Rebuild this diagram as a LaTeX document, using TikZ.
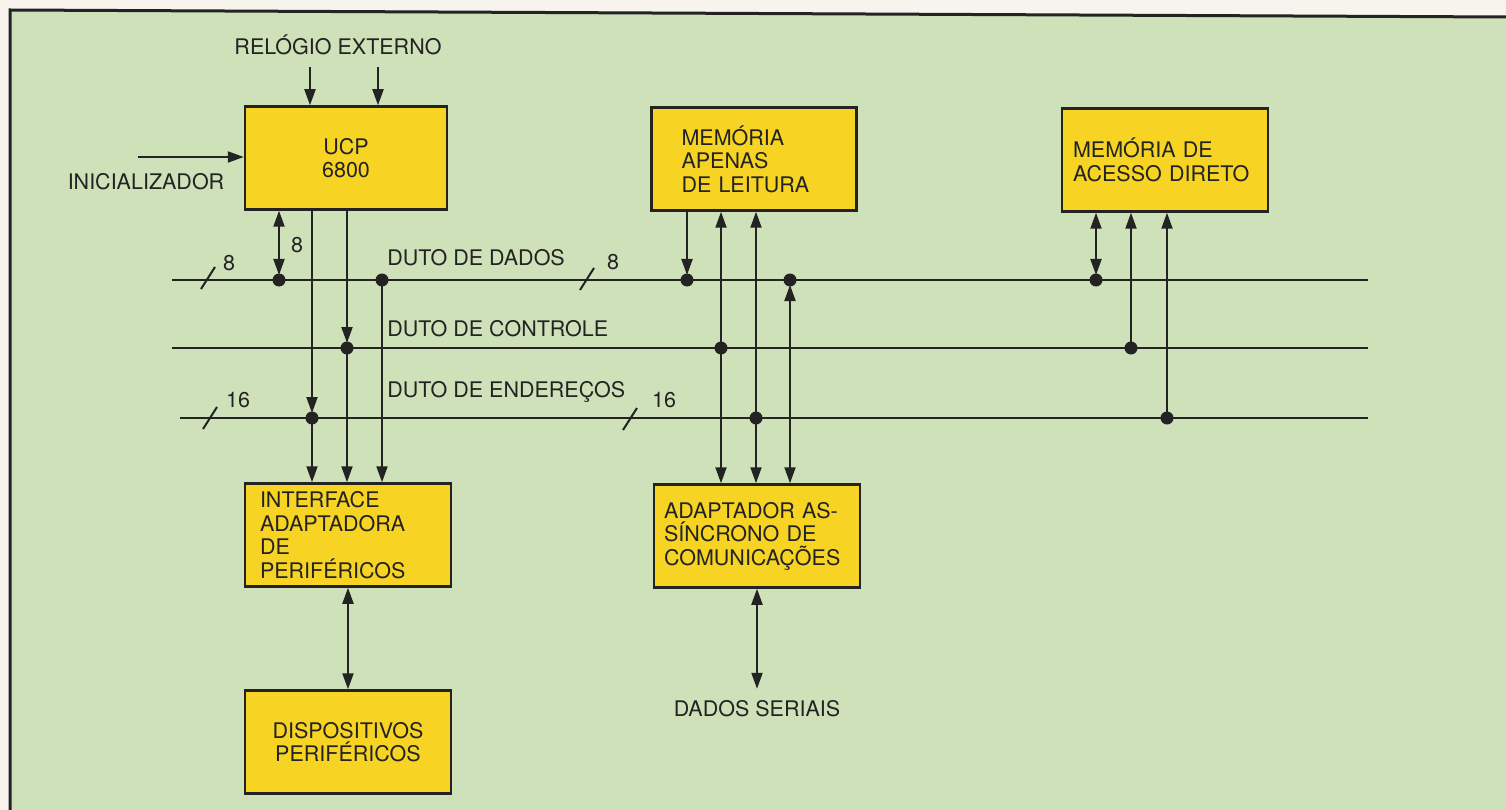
\documentclass[tikz,border=0pt]{standalone}
\usepackage{fontspec}
\setmainfont{TeX Gyre Heros}
\usetikzlibrary{arrows.meta}
\definecolor{paper}{RGB}{246,244,236}
\definecolor{bggreen}{RGB}{206,225,185}
\definecolor{boxyellow}{RGB}{247,212,36}
\definecolor{ink}{RGB}{35,35,35}
\begin{document}
\begin{tikzpicture}[
        x=1pt, y=-1pt,
        color=ink, line width=2pt,
        font=\fontsize{21.5}{23.5}\selectfont,
        >={Triangle[length=16pt,width=11pt]},
        block/.style={draw, line width=2.5pt, fill=boxyellow, align=left, minimum height=103pt, inner ysep=0pt},
        tap/.style={shorten >=5pt},
        buslabel/.style={anchor=west}
    ]
    \useasboundingbox (0,0) rectangle (1506,810);
    \fill[paper] (0,0) rectangle (1506,810);
    \fill[bggreen] (10,810) -- (10,10) -- (1506,17) -- (1506,810) -- cycle;
    \draw[line width=3pt] (10,810) -- (10,10) -- (1506,17);

    \node[block, text width=172pt, inner xsep=15pt, align=center] (ucp) at (346,158) {UCP\\6800};
    \node[block, text width=145pt, inner xsep=30pt] (rom) at (754,159) {MEMÓRIA\\APENAS\\DE LEITURA};
    \node[block, text width=184pt, inner xsep=11pt] (ram) at (1165,160) {MEMÓRIA DE\\ACESSO DIRETO};
    \node[block, text width=176pt, inner xsep=15pt] (pia) at (348,535) {INTERFACE\\ADAPTADORA\\DE\\PERIFÉRICOS};
    \node[block, text width=186pt, inner xsep=10pt] (acia) at (757,536) {ADAPTADOR AS-\\SÍNCRONO DE\\COMUNICAÇÕES};
    \node[block, text width=176pt, inner xsep=15pt, align=center] (dev) at (348,742) {DISPOSITIVOS\\PERIFÉRICOS};

    \node (clock) at (338,45) {RELÓGIO EXTERNO};
    \node (ini) at (146,182) {INICIALIZADOR};
    \node[inner sep=11pt] (serial) at (757,709) {DADOS SERIAIS};
    \node[buslabel] (ldata) at (383,258) {DUTO DE DADOS};
    \node[buslabel] (lctrl) at (383,329) {DUTO DE CONTROLE};
    \node[buslabel] (laddr) at (383,392) {DUTO DE ENDEREÇOS};
    \node (w1) at (229,263) {8};
    \node (w2) at (613,262) {8};
    \node (w3) at (297,245) {8};
    \node (w4) at (238,400) {16};
    \node (w5) at (664,400) {16};

    \coordinate (clk1) at (310,67);
    \coordinate (clk2) at (378,67);
    \coordinate (rst) at (138,157);
    \coordinate (dl) at (172,280);
    \coordinate (dr) at (1368,280);
    \coordinate (cl) at (172,348);
    \coordinate (cr) at (1368,348);
    \coordinate (al) at (180,418);
    \coordinate (ar) at (1368,418);
    \coordinate (d1) at (279,280);
    \coordinate (d2) at (382,280);
    \coordinate (d3) at (687,280);
    \coordinate (d4) at (790,280);
    \coordinate (d5) at (1096,280);
    \coordinate (c1) at (347,348);
    \coordinate (c2) at (721,348);
    \coordinate (c3) at (1131,348);
    \coordinate (a1) at (312,418);
    \coordinate (a2) at (756,418);
    \coordinate (a3) at (1167,418);
    \coordinate (s1) at (208,278);
    \coordinate (s2) at (587,279);
    \coordinate (s3) at (210,418);
    \coordinate (s4) at (630,419);

    \draw (dl) -- (dr);
    \draw (cl) -- (cr);
    \draw (al) -- (ar);
    \foreach \s in {s1,s2,s3,s4}
        \draw (\s) +(-7,11) -- +(7,-11);

    \draw[->] (clk1) -- (clk1 |- ucp.north);
    \draw[->] (clk2) -- (clk2 |- ucp.north);
    \draw[->] (rst) -- (rst -| ucp.west);

    \draw[<->, tap] (ucp.south -| d1) -- (d1);
    \draw[->, tap] (ucp.south -| a1) -- (a1);
    \draw[->] (a1) -- (a1 |- pia.north);
    \draw[->, tap] (ucp.south -| c1) -- (c1);
    \draw[->] (c1) -- (c1 |- pia.north);
    \draw[->] (d2) -- (d2 |- pia.north);

    \draw[->, tap] (rom.south -| d3) -- (d3);
    \draw[->] (c2) -- (c2 |- rom.south);
    \draw[->] (c2) -- (c2 |- acia.north);
    \draw[->] (a2) -- (a2 |- rom.south);
    \draw[->] (a2) -- (a2 |- acia.north);
    \draw[<->, tap] (acia.north -| d4) -- (d4);

    \draw[<->, tap] (ram.south -| d5) -- (d5);
    \draw[->] (c3) -- (c3 |- ram.south);
    \draw[->] (a3) -- (a3 |- ram.south);

    \draw[<->] (pia) -- (dev);
    \draw[<->] (acia) -- (serial);

    \foreach \p in {d1,d2,d3,d4,d5,c1,c2,c3,a1,a2,a3}
        \fill (\p) circle (6.5pt);
\end{tikzpicture}
\end{document}
